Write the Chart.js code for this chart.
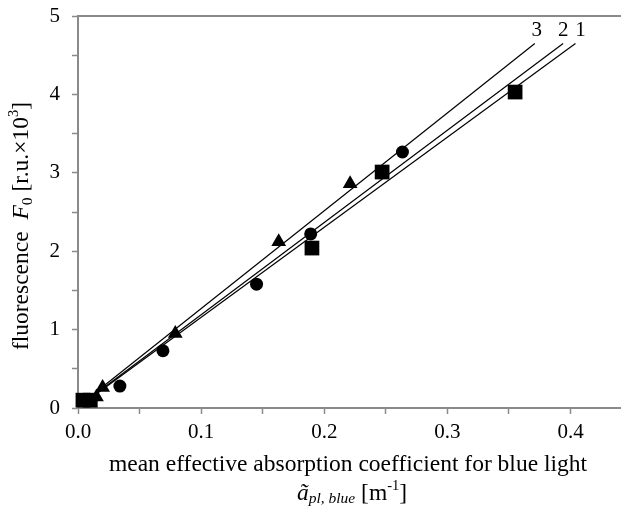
<!DOCTYPE html>
<html lang="en">
<head>
    <meta charset="UTF-8">
    <title>Fluorescence vs absorption</title>
    <script src="https://cdn.jsdelivr.net/npm/chart.js"></script>
    <style>
        body { margin: 0; background: #fff; }
        #box { width: 621px; height: 511px; }
    </style>
</head>
<body>
    <div id="box">
        <canvas id="grafico"></canvas>
    </div>

<script>
    // pontos medidos (quadrados = 1, circulos = 2, triangulos = 3)
    const quadX = [0.004, 0.010, 0.190, 0.247, 0.355];
    const quadY = [0.10, 0.10, 2.04, 3.01, 4.03];
    const circX = [0.034, 0.069, 0.145, 0.189, 0.2635];
    const circY = [0.28, 0.73, 1.58, 2.22, 3.265];
    const triX = [0.015, 0.020, 0.079, 0.163, 0.221];
    const triY = [0.14, 0.26, 0.95, 2.12, 2.86];

    // retas ajustadas (inicio e fim)
    const reta1X = [0.016, 0.404];
    const reta1Y = [0.19, 4.65];
    const reta2X = [0.016, 0.394];
    const reta2Y = [0.20, 4.65];
    const reta3X = [0.016, 0.371];
    const reta3Y = [0.22, 4.65];
    const nomesRetas = ['1', '2', '3'];

    const xTicks = [0, 0.05, 0.1, 0.15, 0.2, 0.25, 0.3, 0.35, 0.4];
    const yTicks = [0, 0.5, 1, 1.5, 2, 2.5, 3, 3.5, 4, 4.5, 5];

    const fonte = "'Liberation Serif', 'Times New Roman', serif";
    const cinza = '#8a8a8a';

    function pares(xs, ys) {
        return xs.map((x, i) => ({ x: x, y: ys[i] }));
    }

    function reta(xs, ys) {
        return {
            data: pares(xs, ys),
            showLine: true,
            borderColor: '#000',
            borderWidth: 1.2,
            pointRadius: 0,
            clip: false
        };
    }

    function marcador(xs, ys, estilo, raio) {
        return {
            data: pares(xs, ys),
            pointStyle: estilo,
            pointRadius: raio,
            pointBackgroundColor: '#000',
            pointBorderColor: '#000',
            pointBorderWidth: 0,
            showLine: false,
            clip: false
        };
    }

    // sem folgas extras das escalas, a area do grafico fica onde queremos
    function semFolga(s) {
        s.paddingTop = 0;
        s.paddingBottom = 0;
        s.paddingLeft = 0;
        s.paddingRight = 0;
    }

    // desenha um texto com partes de estilos diferentes (italico, indice, expoente)
    function textoMisto(ctx, partes, x, y) {
        let largura = 0;
        partes.forEach(p => {
            ctx.font = (p.it ? 'italic ' : '') + p.tam + 'px ' + fonte;
            largura += ctx.measureText(p.t).width;
        });
        let px = x - largura / 2;
        partes.forEach(p => {
            ctx.font = (p.it ? 'italic ' : '') + p.tam + 'px ' + fonte;
            ctx.fillText(p.t, px, y + (p.dy || 0));
            px += ctx.measureText(p.t).width;
        });
    }

    const titulos = {
        id: 'titulos',
        afterDraw(chart) {
            const ctx = chart.ctx;
            const xs = chart.scales.x;
            const ys = chart.scales.y;
            ctx.save();
            ctx.fillStyle = '#000';
            ctx.textBaseline = 'middle';
            ctx.textAlign = 'left';

            // titulo eixo x
            textoMisto(ctx, [
                { t: 'mean effective absorption coefficient for blue light', tam: 23.5 }
            ], 348, 465);
            textoMisto(ctx, [
                { t: 'ã', tam: 23.5, it: true },
                { t: 'pl, blue', tam: 15.5, it: true, dy: 5 },
                { t: ' [m', tam: 23.5 },
                { t: '-1', tam: 14.5, dy: -8 },
                { t: ']', tam: 23.5 }
            ], 352, 494);

            // titulo eixo y
            ctx.save();
            ctx.translate(22, 226);
            ctx.rotate(-Math.PI / 2);
            textoMisto(ctx, [
                { t: 'fluorescence  ', tam: 23.5 },
                { t: 'F', tam: 23.5, it: true },
                { t: '0', tam: 15.5, dy: 6 },
                { t: ' [r.u.×10', tam: 23.5 },
                { t: '3', tam: 14.5, dy: -8 },
                { t: ']', tam: 23.5 }
            ], 0, 0);
            ctx.restore();

            // numeros das retas
            ctx.font = '21px ' + fonte;
            ctx.textAlign = 'center';
            ctx.textBaseline = 'bottom';
            const fins = [[reta1X, reta1Y, 5], [reta2X, reta2Y, 0], [reta3X, reta3Y, 2]];
            fins.forEach((f, i) => {
                const px = xs.getPixelForValue(f[0][1]);
                const py = ys.getPixelForValue(f[1][1]);
                ctx.fillText(nomesRetas[i], px + f[2], py - 2);
            });
            ctx.restore();
        }
    };

    new Chart(document.getElementById('grafico'), {
        type: 'scatter',
        data: {
            datasets: [
                marcador(quadX, quadY, 'rect', 10.4),
                marcador(circX, circY, 'circle', 6.5),
                marcador(triX, triY, 'triangle', 8.5),
                reta(reta1X, reta1Y),
                reta(reta2X, reta2Y),
                reta(reta3X, reta3Y)
            ]
        },
        options: {
            responsive: true,
            maintainAspectRatio: false,
            animation: false,
            layout: { autoPadding: false, padding: { top: 16, left: 0, right: 0, bottom: 0 } },
            plugins: {
                legend: { display: false },
                tooltip: { enabled: false }
            },
            scales: {
                x: {
                    type: 'linear',
                    min: 0,
                    max: 0.441,
                    afterBuildTicks: s => { s.ticks = xTicks.map(v => ({ value: v })); },
                    afterFit: s => { s.height = 103; semFolga(s); },
                    border: { color: cinza, width: 2 },
                    grid: { drawOnChartArea: false, drawTicks: true, tickLength: 6, color: cinza, tickWidth: 1.5 },
                    ticks: {
                        color: '#000',
                        padding: 6,
                        maxRotation: 0,
                        autoSkip: false,
                        font: { family: fonte, size: 21 },
                        callback: v => (Math.round(v * 100) % 10 === 0 ? v.toFixed(1) : '')
                    }
                },
                x2: {
                    type: 'linear',
                    position: 'top',
                    min: 0,
                    max: 0.441,
                    afterFit: s => { s.height = 0; semFolga(s); },
                    border: { color: cinza, width: 2 },
                    grid: { display: false },
                    ticks: { display: false }
                },
                y: {
                    min: 0,
                    max: 5,
                    afterBuildTicks: s => { s.ticks = yTicks.map(v => ({ value: v })); },
                    afterFit: s => { s.width = 78; semFolga(s); },
                    border: { color: cinza, width: 2 },
                    grid: { drawOnChartArea: false, drawTicks: true, tickLength: 6, color: cinza, tickWidth: 1.5 },
                    ticks: {
                        color: '#000',
                        padding: 12,
                        autoSkip: false,
                        font: { family: fonte, size: 21 },
                        callback: v => (Number.isInteger(v) ? String(v) : '')
                    }
                }
            }
        },
        plugins: [titulos]
    });
</script>
</body>
</html>
